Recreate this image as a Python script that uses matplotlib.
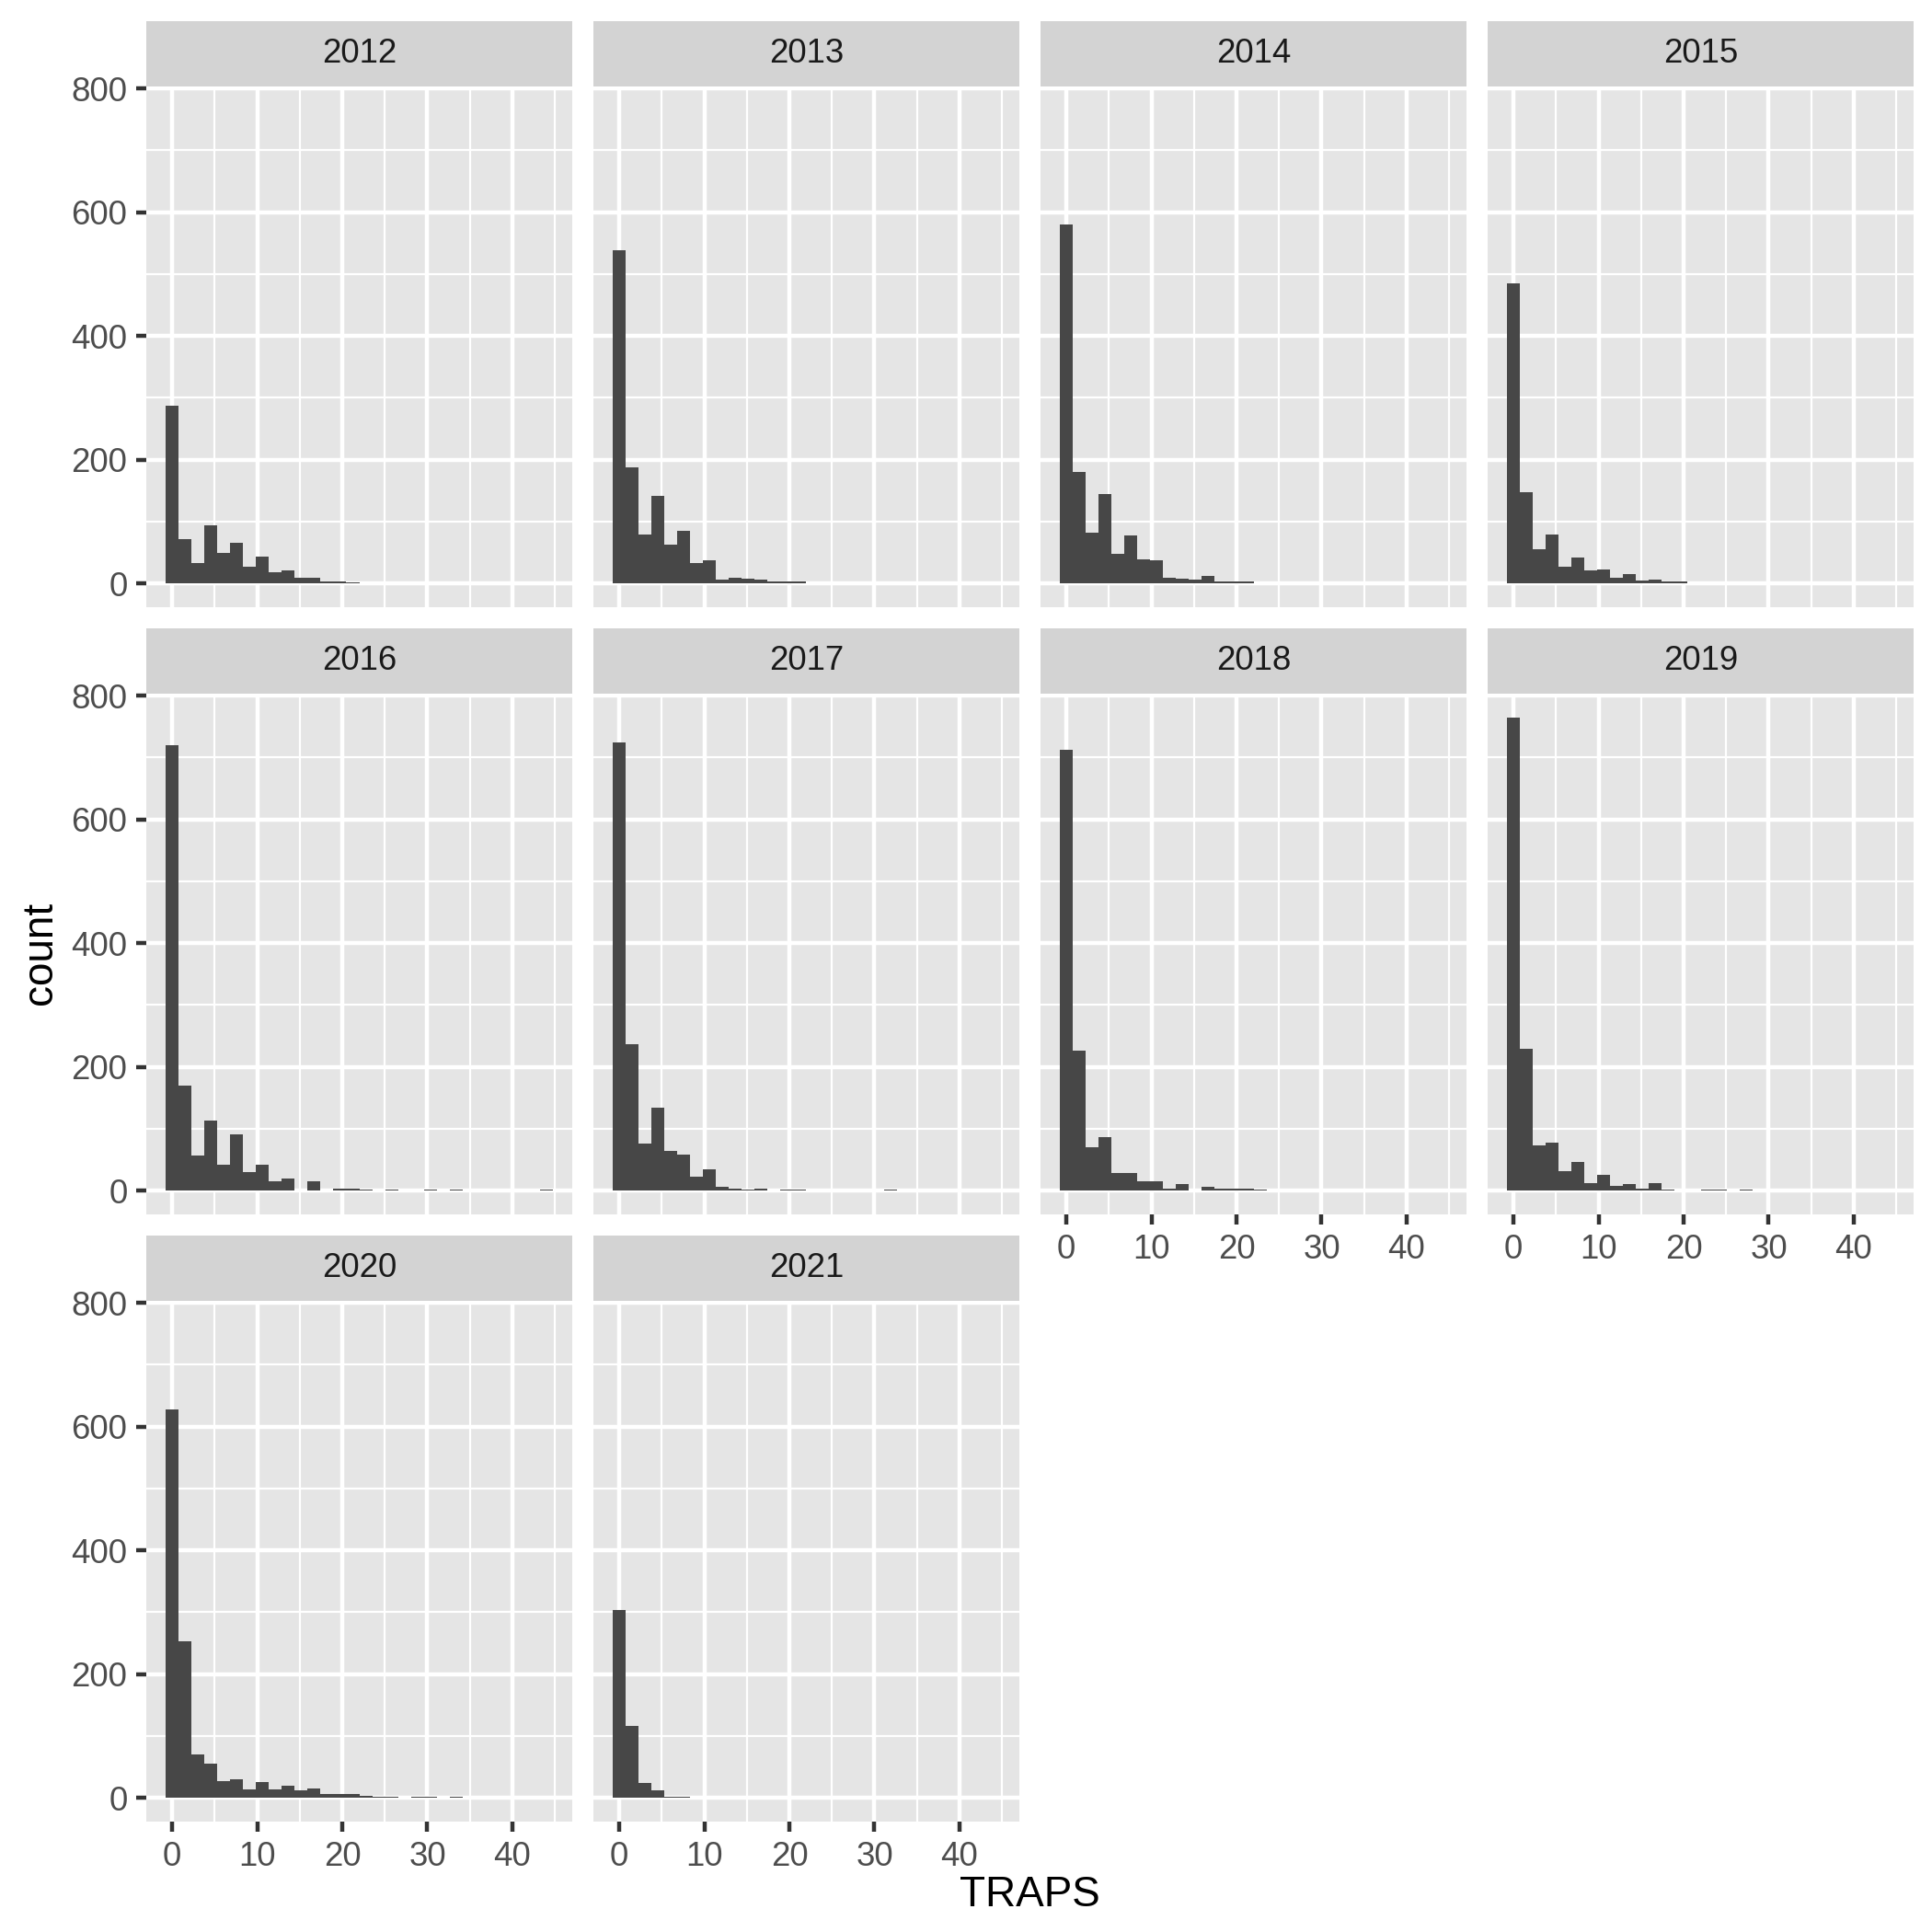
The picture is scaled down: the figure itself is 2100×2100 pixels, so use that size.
import numpy as np
from matplotlib import pyplot as plt

plt.rcParams['font.family'] = ['Liberation Sans', 'DejaVu Sans']

years = [2012, 2013, 2014, 2015, 2016, 2017, 2018, 2019, 2020, 2021]

# counts per histogram bin (30 bins over TRAPS 0..44)
c2012 = [287, 72, 33, 94, 50, 66, 27, 43, 18, 21, 9, 9, 3, 4, 2]
c2013 = [538, 187, 79, 142, 63, 85, 33, 37, 6, 10, 8, 6, 3, 3, 3]
c2014 = [580, 180, 82, 145, 48, 78, 39, 37, 9, 8, 6, 12, 3, 3, 3]
c2015 = [485, 147, 55, 79, 27, 42, 21, 22, 9, 15, 5, 7, 3, 4]
c2016 = [720, 170, 57, 113, 42, 91, 30, 42, 16, 20, 1, 16, 1, 4, 3, 2, 0, 2, 0, 0,
         2, 0, 2, 0, 0, 0, 0, 0, 0, 2]
c2017 = [725, 237, 76, 134, 65, 58, 22, 34, 7, 4, 2, 4, 0, 2, 2, 0, 0, 0, 0, 0, 0, 2]
c2018 = [713, 226, 71, 86, 28, 29, 16, 16, 4, 11, 1, 7, 4, 4, 3, 2]
c2019 = [765, 230, 73, 77, 32, 46, 13, 26, 8, 11, 4, 13, 2, 0, 0, 2, 2, 0, 2]
c2020 = [628, 253, 70, 55, 27, 30, 14, 26, 14, 20, 12, 16, 6, 7, 6, 3, 2, 2, 0, 2,
         2, 0, 2]
c2021 = [303, 116, 24, 12, 2, 2]
counts = [c2012, c2013, c2014, c2015, c2016, c2017, c2018, c2019, c2020, c2021]

x_max = 44
n_bins = 30
bw = x_max / (n_bins - 1)
x_lo, x_hi = -bw / 2, x_max + bw / 2
x_pad = 0.05 * (x_hi - x_lo)
y_top = max(max(c) for c in counts)

W = 2100
fig = plt.figure(figsize=(7, 7), dpi=300)

pw, gap = 463, 23
ph, sh = 566, 71
left0, top0 = 159, 23


def frac(x, y, w, h):
    return [x / W, 1 - (y + h) / W, w / W, h / W]


for k, yr in enumerate(years):
    r, c = divmod(k, 4)
    px = left0 + c * (pw + gap)
    sy = top0 + r * (sh + ph + gap)
    py = sy + sh

    # strip
    st = fig.add_axes(frac(px, sy, pw, sh))
    st.set_facecolor('#D3D3D3')
    st.set_xticks([])
    st.set_yticks([])
    for s in st.spines.values():
        s.set_visible(False)
    st.text(0.5, 0.5, str(yr), ha='center', va='center', fontsize=8.8, color='#1A1A1A',
            transform=st.transAxes)

    ax = fig.add_axes(frac(px, py, pw, ph))
    ax.set_facecolor('#E5E5E5')
    ax.set_axisbelow(True)
    for s in ax.spines.values():
        s.set_visible(False)
    vals = counts[k]
    ax.bar(np.arange(len(vals)) * bw, vals, width=bw, color='#474747', linewidth=0)
    ax.set_xlim(x_lo - x_pad, x_hi + x_pad)
    ax.set_ylim(-0.05 * y_top, y_top * 1.05)
    ax.set_xticks([0, 10, 20, 30, 40])
    ax.set_xticks([5, 15, 25, 35, 45], minor=True)
    ax.set_yticks([0, 200, 400, 600, 800])
    ax.set_yticks([100, 300, 500, 700], minor=True)
    ax.grid(which='major', color='white', linewidth=1.07)
    ax.grid(which='minor', color='white', linewidth=0.53)
    ax.tick_params(which='minor', length=0)
    ax.tick_params(which='major', length=2.75, width=1.07, color='#333333',
                   labelsize=8.8, labelcolor='#4D4D4D', pad=2.2)

    show_x = (r == 2) or (r == 1 and c >= 2)
    if not show_x:
        ax.tick_params(axis='x', length=0, labelbottom=False)
    if c != 0:
        ax.tick_params(axis='y', length=0, labelleft=False)

fig.text(44 / W, 1 - 1036 / W, 'count', rotation=90, ha='center', va='center', fontsize=11)
fig.text((left0 + (4 * pw + 3 * gap) / 2) / W, 1 - 2060 / W, 'TRAPS', ha='center', va='center',
         fontsize=11)

plt.savefig('out.png', dpi=300)
